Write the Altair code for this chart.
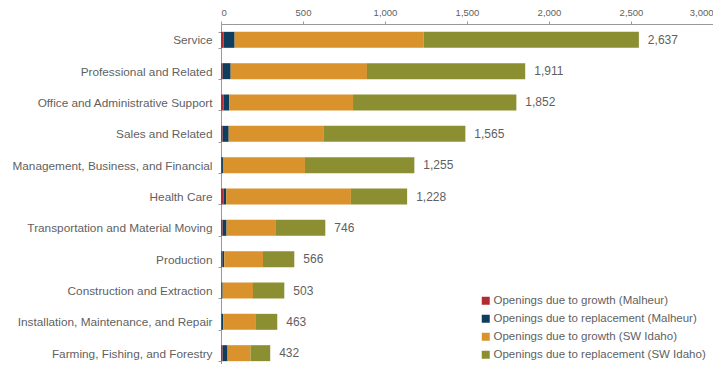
import altair as alt
import pandas as pd

categories = [
    "Service",
    "Professional and Related",
    "Office and Administrative Support",
    "Sales and Related",
    "Management, Business, and Financial",
    "Health Care",
    "Transportation and Material Moving",
    "Production",
    "Construction and Extraction",
    "Installation, Maintenance, and Repair",
    "Farming, Fishing, and Forestry",
]
series = [
    "Openings due to growth (Malheur)",
    "Openings due to replacement (Malheur)",
    "Openings due to growth (SW Idaho)",
    "Openings due to replacement (SW Idaho)",
]
growth_malheur = [16, 10, 16, 10, 2, 16, 10, 8, 4, 4, 10]
replacement_malheur = [67, 49, 35, 37, 10, 16, 24, 12, 6, 10, 30]
growth_swidaho = [1152, 831, 754, 577, 500, 760, 301, 236, 185, 199, 140]
replacement_swidaho = [1313, 965, 996, 866, 667, 343, 301, 191, 191, 130, 120]
total_labels = ["2,637", "1,911", "1,852", "1,565", "1,255", "1,228", "746", "566", "503", "463", "432"]
colors = ["#b22b30", "#0f3d5e", "#d9922c", "#8c8f31"]
x_ticks = [0, 500, 1000, 1500, 2000, 2500, 3000]

all_series = [growth_malheur, replacement_malheur, growth_swidaho, replacement_swidaho]
rows = []
for si, (name, vals) in enumerate(zip(series, all_series)):
    for c, v in zip(categories, vals):
        rows.append({"category": c, "series": name, "value": v, "order": si})
df = pd.DataFrame(rows)

totals = pd.DataFrame({
    "category": categories,
    "total": [sum(v) for v in zip(*all_series)],
    "label": total_labels,
})

font = "Liberation Sans"
gray = "#5f5f5f"

y_enc = alt.Y(
    "category:N",
    sort=categories,
    title=None,
    scale=alt.Scale(paddingInner=0.49, paddingOuter=0.25, range=[0, 345]),
    axis=alt.Axis(
        tickBand="extent", tickSize=3, labelPadding=6, labelFontSize=11.8,
        labelColor=gray, labelFont=font, domainColor="#999999", tickColor="#999999",
        labelLimit=300,
    ),
)

bars = alt.Chart(df).mark_bar().encode(
    x=alt.X(
        "sum(value):Q",
        title=None,
        scale=alt.Scale(domain=[0, 3000], nice=False),
        axis=alt.Axis(
            orient="top", values=x_ticks, format=",.0f", grid=False, tickSize=3,
            labelFontSize=9.5, labelColor=gray, labelFont=font, labelPadding=4,
            domainColor="#999999", tickColor="#999999",
        ),
    ),
    y=y_enc,
    color=alt.Color(
        "series:N",
        sort=series,
        scale=alt.Scale(domain=series, range=colors),
        legend=alt.Legend(
            title=None, orient="none", legendX=259, legendY=271,
            symbolType="square", symbolSize=64, symbolStrokeWidth=0,
            labelFontSize=11.5, labelColor=gray, labelFont=font,
            rowPadding=5, labelOffset=2, labelLimit=400,
        ),
    ),
    order=alt.Order("order:Q"),
)

labels = alt.Chart(totals).mark_text(
    align="left", baseline="middle", dx=9, fontSize=12, color=gray, font=font
).encode(
    x=alt.X("total:Q"),
    y=alt.Y("category:N", sort=categories),
    text="label:N",
)

chart = (
    alt.layer(bars, labels)
    .properties(
        width=492,
        height=340,
        autosize=alt.AutoSizeParams(type="none"),
        padding={"left": 213, "top": 16, "right": 0, "bottom": 0},
    )
    .configure_view(stroke=None)
    .configure(background="#ffffff")
)

chart.save("out.html", embed_options={"renderer": "svg", "actions": False})
